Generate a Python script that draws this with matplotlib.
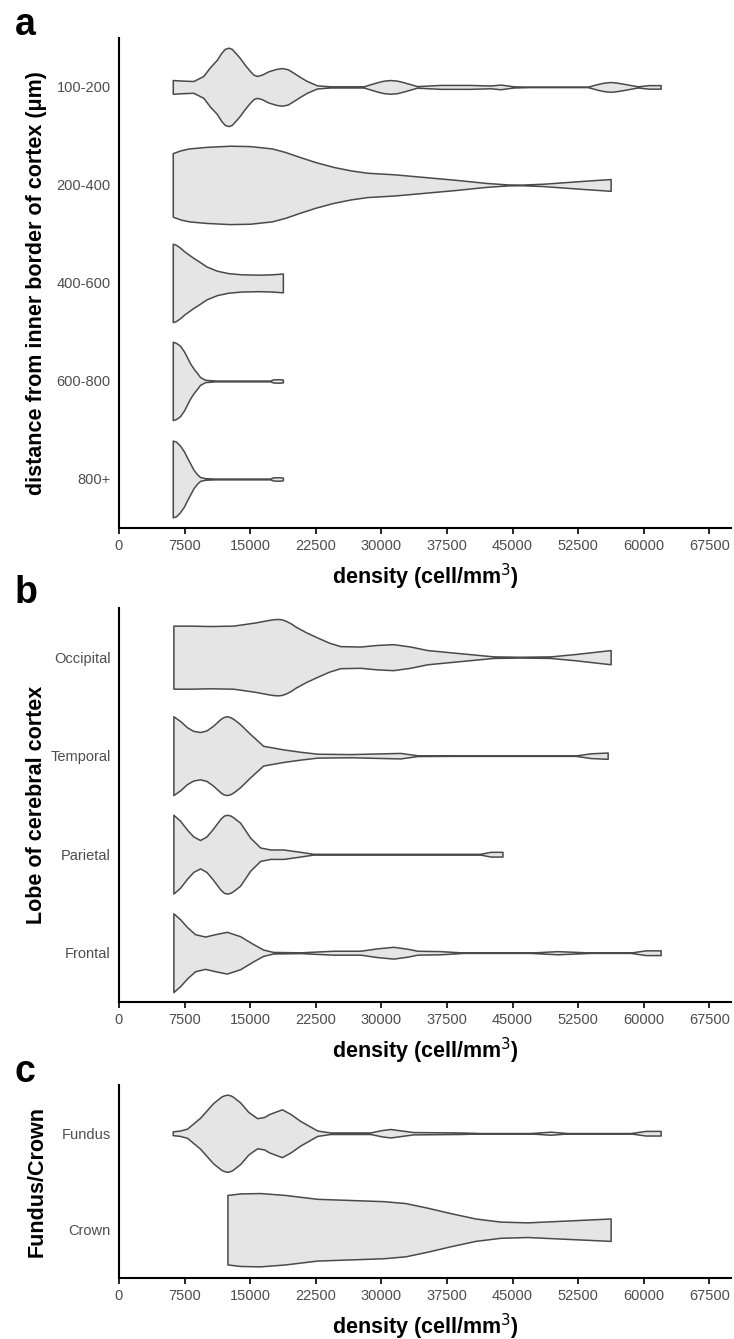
import numpy as np
import matplotlib
matplotlib.use("Agg")
import matplotlib.pyplot as plt

plt.rcParams['font.family'] = ['Liberation Sans', 'DejaVu Sans']

# ---- panel a : distance from inner border of cortex ----
a_cats = ["100-200", "200-400", "400-600", "600-800", "800+"]

a1_x = [6150, 7330, 8510, 9650, 10400, 11190, 11700, 12100, 12510, 12900, 13350, 13850, 14400,
        15000, 15400, 15770, 16300, 17100, 18000, 18630, 19300, 19960, 20800, 21490, 22640,
        24160, 27970, 29540, 30300, 31030, 31800, 32520, 34090, 36750, 40190, 42480, 43620,
        45110, 47060, 53590, 54850, 55500, 56220, 56900, 57710, 59310, 60570, 61940]
a1_w = [0.175, 0.16, 0.15, 0.28, 0.5, 0.69, 0.87, 0.97, 1.0, 0.97, 0.86, 0.73, 0.56,
        0.4, 0.31, 0.28, 0.31, 0.4, 0.46, 0.48, 0.45, 0.36, 0.24, 0.15, 0.04,
        0.015, 0.015, 0.12, 0.16, 0.175, 0.16, 0.12, 0.02, 0.05, 0.05, 0.035, 0.06,
        0.015, 0.005, 0.005, 0.08, 0.11, 0.125, 0.11, 0.08, 0.015, 0.045, 0.045]

a2_x = [6150, 7000, 8000, 10000, 12700, 15000, 17500, 19000, 20700, 22500, 24500, 26500,
        28400, 31500, 35000, 38500, 42000, 44500, 46000, 48500, 51000, 53500, 56220]
a2_w = [0.81, 0.88, 0.93, 0.97, 1.0, 0.99, 0.93, 0.84, 0.71, 0.58, 0.46, 0.37,
        0.31, 0.27, 0.2, 0.13, 0.05, 0.012, 0.008, 0.03, 0.07, 0.11, 0.15]

a3_x = [6150, 6530, 6980, 7500, 8500, 9270, 10000, 11220, 12500, 14000, 16000, 17500, 18740]
a3_w = [1.0, 0.97, 0.9, 0.8, 0.64, 0.53, 0.42, 0.31, 0.25, 0.22, 0.21, 0.22, 0.24]

a4_x = [6150, 6530, 6980, 7440, 7790, 8130, 8510, 8930, 9270, 9850, 11000, 17290, 17630, 18320, 18740]
a4_w = [1.0, 0.97, 0.9, 0.75, 0.6, 0.45, 0.32, 0.2, 0.1, 0.03, 0.01, 0.01, 0.04, 0.045, 0.035]

a5_x = [6150, 6530, 6980, 7440, 7750, 8130, 8510, 8930, 9270, 9850, 11000, 17290, 17630, 18320, 18740]
a5_w = [0.98, 0.95, 0.85, 0.7, 0.56, 0.4, 0.24, 0.12, 0.05, 0.02, 0.01, 0.01, 0.04, 0.045, 0.035]

# ---- panel b : lobe ----
b_cats = ["Occipital", "Temporal", "Parietal", "Frontal"]

b1_x = [6220, 8130, 10420, 13050, 15570, 17000, 17600, 18090, 18600, 19100, 19700, 20150, 21400,
        22670, 24000, 25300, 27600, 29500, 31370, 33300, 35270, 39040, 42820, 45900, 49350,
        52210, 56220]
b1_w = [0.8, 0.8, 0.79, 0.8, 0.88, 0.94, 0.96, 0.97, 0.96, 0.92, 0.85, 0.78, 0.63,
        0.5, 0.37, 0.28, 0.27, 0.31, 0.33, 0.27, 0.18, 0.1, 0.02, 0.01, 0.02,
        0.08, 0.18]

b2_x = [6220, 6990, 7790, 8500, 9270, 10000, 10760, 11600, 11950, 12330, 12700, 13100, 13850,
        15000, 16490, 18780, 20720, 22670, 26450, 30230, 32170, 34120, 37900, 52210, 53930, 55880]
b2_w = [1.0, 0.88, 0.72, 0.63, 0.6, 0.64, 0.76, 0.93, 0.98, 1.0, 0.98, 0.93, 0.8,
        0.55, 0.25, 0.16, 0.1, 0.05, 0.04, 0.06, 0.07, 0.01, 0.005, 0.005, 0.06, 0.08]

b3_x = [6220, 6990, 7790, 8500, 9270, 10000, 10760, 11600, 12000, 12370, 12750, 13100, 13850,
        15000, 16150, 17300, 18780, 20720, 22210, 41300, 42500, 43850]
b3_w = [1.0, 0.85, 0.62, 0.45, 0.36, 0.45, 0.65, 0.9, 0.98, 1.0, 0.98, 0.93, 0.8,
        0.42, 0.17, 0.12, 0.12, 0.06, 0.01, 0.01, 0.06, 0.06]

b4_x = [6220, 6990, 7790, 8700, 9850, 10990, 12330, 13850, 15340, 16490, 17630, 20720, 24500,
        27600, 29500, 31370, 33000, 34120, 36750, 39390, 47060, 50150, 53930, 58510, 60230, 61940]
b4_w = [1.0, 0.85, 0.65, 0.47, 0.41, 0.47, 0.53, 0.42, 0.22, 0.08, 0.02, 0.01, 0.05,
        0.05, 0.11, 0.15, 0.1, 0.05, 0.04, 0.005, 0.005, 0.04, 0.005, 0.005, 0.06, 0.06]

# ---- panel c : fundus / crown ----
c_cats = ["Fundus", "Crown"]

c1_x = [6150, 6990, 7790, 9270, 10760, 11700, 12000, 12370, 12750, 13000, 13850, 14800, 15800,
        16600, 17200, 18630, 19600, 20720, 22670, 24160, 28740, 30000, 31030, 32000, 33660,
        39050, 41340, 47060, 49350, 51300, 58510, 60230, 61940]
c1_w = [0.05, 0.07, 0.12, 0.4, 0.78, 0.95, 0.98, 1.0, 0.98, 0.95, 0.8, 0.55, 0.39,
        0.42, 0.5, 0.62, 0.5, 0.32, 0.07, 0.02, 0.02, 0.08, 0.11, 0.08, 0.03,
        0.02, 0.005, 0.005, 0.04, 0.005, 0.005, 0.06, 0.06]

c2_x = [12400, 13850, 16140, 19010, 22670, 26450, 30230, 32750, 35270, 37900, 40760,
        43620, 46720, 50490, 56220]
c2_w = [0.9, 0.94, 0.95, 0.9, 0.8, 0.77, 0.74, 0.69, 0.57, 0.43, 0.29,
        0.21, 0.19, 0.23, 0.29]

x_ticks = [0, 7500, 15000, 22500, 30000, 37500, 45000, 52500, 60000, 67500]

panels = [
    ("a", a_cats, [(a1_x, a1_w), (a2_x, a2_w), (a3_x, a3_w), (a4_x, a4_w), (a5_x, a5_w)],
     "distance from inner border of cortex (\u03bcm)", [0.6057, 0.3660], 0.9739),
    ("b", b_cats, [(b1_x, b1_w), (b2_x, b2_w), (b3_x, b3_w), (b4_x, b4_w)],
     "Lobe of cerebral cortex", [0.2517, 0.2943], 0.5497),
    ("c", c_cats, [(c1_x, c1_w), (c2_x, c2_w)],
     "Fundus/Crown", [0.0456, 0.1441], 0.1919),
]

fig = plt.figure(figsize=(7.34, 13.39), dpi=100)

for letter, cats, profiles, ylab, (bot, h), ly in panels:
    ax = fig.add_axes([0.1621, bot, 0.834, h])
    n = len(cats)
    # violins: half width 0.4 of a category slot
    for i, (xs, ws) in enumerate(profiles):
        pos = n - i
        xs = np.array(xs)
        ws = np.array(ws) * 0.4
        ax.fill_between(xs, pos - ws, pos + ws, facecolor="#e5e5e5",
                        edgecolor="#4a4a4a", linewidth=1.1)
    ax.set_xlim(0, 70000)
    ax.set_ylim(0.5, n + 0.5)
    ax.set_yticks(range(n, 0, -1))
    ax.set_yticklabels(cats)
    ax.set_xticks(x_ticks)
    ax.set_xticklabels([str(t) for t in x_ticks])
    for s in ["top", "right"]:
        ax.spines[s].set_visible(False)
    for s in ["left", "bottom"]:
        ax.spines[s].set_linewidth(1.5)
    ax.tick_params(axis="y", length=0, pad=6, labelsize=10.5, labelcolor="#4d4d4d")
    ax.tick_params(axis="x", length=4, width=1.2, pad=4, labelsize=10.5, labelcolor="#4d4d4d")
    ax.set_xlabel("density (cell/mm$^3$)", fontsize=15.5, fontweight="bold", labelpad=6)
    ax.set_ylabel(ylab, fontsize=15.5, fontweight="bold")
    ax.yaxis.set_label_coords(-0.117, 0.5)
    fig.text(0.0204, ly, letter, fontsize=27, fontweight="bold", va="baseline")

fig.savefig("out.png", dpi=100)
